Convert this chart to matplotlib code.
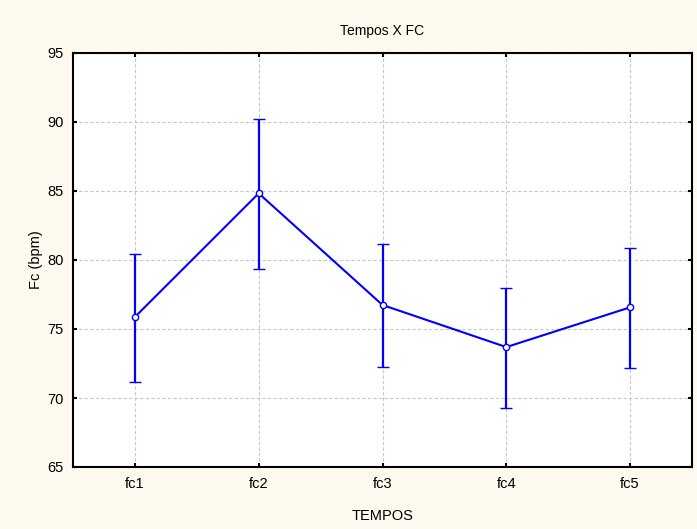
import matplotlib
matplotlib.use("Agg")
import matplotlib.pyplot as plt

categories = ["fc1", "fc2", "fc3", "fc4", "fc5"]
means = [75.87, 84.83, 76.74, 73.69, 76.57]
upper = [80.44, 90.19, 81.17, 78.00, 80.85]
lower = [71.13, 79.35, 72.26, 69.27, 72.21]

plt.rcParams['font.family'] = ['Liberation Sans', 'DejaVu Sans']

fig = plt.figure(figsize=(6.97, 5.29), dpi=100)
fig.patch.set_facecolor('#fdf9ee')
ax = fig.add_axes([73/697, 62/529, 619/697, 414/529])
ax.set_facecolor('white')

x = list(range(len(categories)))
yerr = [[m - l for m, l in zip(means, lower)], [u - m for m, u in zip(means, upper)]]
ax.errorbar(x, means, yerr=yerr, color='#0000ff', lw=1.5, elinewidth=1.6,
            capsize=4.3, capthick=1.6, marker='o', markersize=4.5,
            markerfacecolor='white', markeredgecolor='#0000ff', markeredgewidth=1, zorder=3)

ax.set_xlim(-0.5, 4.5)
ax.set_ylim(65, 95)
ax.set_xticks(x)
ax.set_xticklabels(categories)
ax.set_yticks([65, 70, 75, 80, 85, 90, 95])
ax.grid(True, color='#c8c8c8', linestyle=(0, (3, 2)), linewidth=0.8)
ax.tick_params(direction='in', top=True, right=True, length=3, width=1.5,
               labelsize=10.5, pad=7)
for s in ax.spines.values():
    s.set_linewidth(1.5)

ax.set_title("Tempos X FC", fontsize=10, pad=13)
ax.set_xlabel("TEMPOS", fontsize=10.5, labelpad=13)
ax.set_ylabel("Fc (bpm)", fontsize=10.5, labelpad=3)

fig.savefig("out.png", dpi=100, facecolor=fig.get_facecolor())
